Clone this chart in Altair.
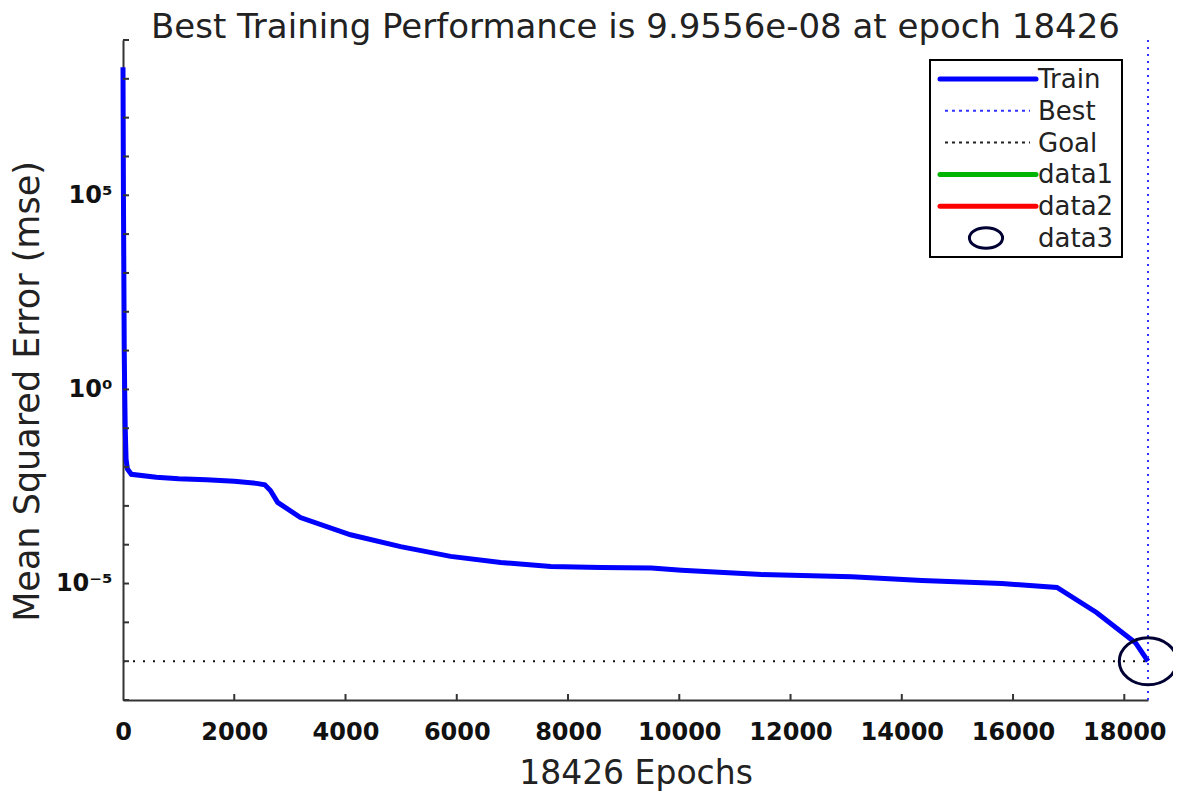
import altair as alt
import pandas as pd

# ---- data ----
epochs = [0, 3, 8, 15, 22, 30, 40, 55, 80, 150, 600, 1000, 1500, 2000, 2400,
          2550, 2650, 2780, 3190, 4090, 4990, 5890, 6790, 7690, 8590, 9500,
          10040, 11480, 13100, 14360, 15800, 16790, 17500, 18200, 18426]
train_mse = [2e8, 1e7, 1e5, 1e3, 10, 1, 0.1, 0.016, 0.0089, 0.0065, 0.0055,
             0.0050, 0.0047, 0.0043, 0.0038, 0.0035, 0.0025, 0.00123, 0.0005,
             0.00018, 8.9e-5, 5.0e-5, 3.5e-5, 2.75e-5, 2.57e-5, 2.5e-5, 2.2e-5,
             1.7e-5, 1.5e-5, 1.2e-5, 1.0e-5, 7.9e-6, 1.8e-6, 3.0e-7, 9.9556e-8]
best_epoch = [18426]
best_perf = [9.9556e-8]
goal = [1e-7]
x_ticks = [0, 2000, 4000, 6000, 8000, 10000, 12000, 14000, 16000, 18000]
x_inner_ticks = [2000, 4000, 6000, 8000, 10000, 12000, 14000, 16000, 18000]
y_labeled_ticks = [1e-5, 1, 1e5]
y_decade_ticks = [1e-8, 1e-7, 1e-6, 1e-5, 1e-4, 1e-3, 1e-2, 1e-1, 1, 10, 100,
                  1e3, 1e4, 1e5, 1e6, 1e7, 1e8, 1e9]
legend_labels = ["Train", "Best", "Goal", "data1", "data2", "data3"]

title_text = "Best Training Performance is 9.9556e-08 at epoch 18426"
x_title = "18426 Epochs"
y_title = "Mean Squared Error (mse)"

FONT = "DejaVu Sans"
W, H = 1025, 660
AXIS_COLOR = "#333333"

xscale = alt.Scale(domain=[0, 18426], nice=False, zero=False)
yscale = alt.Scale(type="log", domain=[1e-8, 1e9], nice=False)

xaxis = alt.Axis(values=x_ticks, format="d", ticks=False, grid=False,
                 labelFlush=False, labelOverlap=False,
                 labelFont=FONT, labelFontSize=24, labelFontWeight="bold",
                 labelColor="#111", labelPadding=20,
                 domainColor=AXIS_COLOR, domainWidth=2,
                 title=x_title, titleFont=FONT, titleFontSize=33,
                 titleFontWeight="normal", titleColor="#222",
                 titlePadding=13)
yaxis = alt.Axis(values=y_labeled_ticks, ticks=False, grid=False,
                 labelExpr="datum.value > 1000 ? '10⁵' : (datum.value > 0.01 ? '10⁰' : '10⁻⁵')",
                 labelFont=FONT, labelFontSize=24, labelFontWeight="bold",
                 labelColor="#111", labelPadding=11,
                 domainColor=AXIS_COLOR, domainWidth=2,
                 title=y_title, titleFont=FONT, titleFontSize=35,
                 titleFontWeight="normal", titleColor="#222",
                 titleX=-96, titleY=351, titleAngle=270,
                 titleAlign="center", titleBaseline="middle")

train_df = pd.DataFrame({"epoch": epochs, "mse": train_mse})
one = pd.DataFrame({"k": [0]})

train = alt.Chart(train_df).mark_line(color="#0000ff", strokeWidth=5).encode(
    x=alt.X("epoch:Q", scale=xscale, axis=xaxis, title=x_title),
    y=alt.Y("mse:Q", scale=yscale, axis=yaxis, title=y_title),
)

goal_df = pd.DataFrame({"epoch": [0], "x1": best_epoch, "mse": goal})
goal_line = alt.Chart(goal_df).mark_rule(color="#111", strokeWidth=2, strokeDash=[2, 8]).encode(
    x=alt.X("epoch:Q", scale=xscale, axis=xaxis, title=x_title),
    x2="x1:Q",
    y=alt.Y("mse:Q", scale=yscale, axis=yaxis, title=y_title),
)

best_df = pd.DataFrame({"epoch": best_epoch})
best_line = alt.Chart(best_df).mark_rule(color="#3333ff", strokeWidth=2, strokeDash=[2, 5]).encode(
    x=alt.X("epoch:Q", scale=xscale, axis=xaxis, title=x_title),
    y=alt.value(0),
    y2=alt.value(H),
)

ellipse = "M -1 0 A 1 0.82 0 1 0 1 0 A 1 0.82 0 1 0 -1 0 Z"
best_df2 = pd.DataFrame({"epoch": best_epoch, "mse": best_perf})
best_circle = alt.Chart(best_df2).mark_point(shape=ellipse, size=3300, filled=False,
                                             opacity=1, color="#000033",
                                             strokeWidth=3).encode(
    x=alt.X("epoch:Q", scale=xscale, axis=xaxis, title=x_title),
    y=alt.Y("mse:Q", scale=yscale, axis=yaxis, title=y_title),
)

ytick_df = pd.DataFrame({"mse": y_decade_ticks})
ytick_marks = alt.Chart(ytick_df).mark_rule(color=AXIS_COLOR, strokeWidth=2).encode(
    y=alt.Y("mse:Q", scale=yscale, axis=yaxis, title=y_title),
    x=alt.value(0),
    x2=alt.value(6),
)
xtick_df = pd.DataFrame({"epoch": x_inner_ticks})
xtick_marks = alt.Chart(xtick_df).mark_rule(color=AXIS_COLOR, strokeWidth=2).encode(
    x=alt.X("epoch:Q", scale=xscale, axis=xaxis, title=x_title),
    y=alt.value(H),
    y2=alt.value(H - 6),
)

# ---- legend (drawn by hand, MATLAB style) ----
box = alt.Chart(one).mark_rect(fill="white", stroke="black", strokeWidth=2).encode(
    x=alt.value(807), x2=alt.value(999), y=alt.value(20), y2=alt.value(217)
)
row_styles = [
    dict(kind="line", color="#0000ff", width=5, dash=None),
    dict(kind="line", color="#3333ff", width=2, dash=[3, 4]),
    dict(kind="line", color="#222222", width=2, dash=[3, 4]),
    dict(kind="line", color="#00b400", width=5, dash=None),
    dict(kind="line", color="#ff0000", width=5, dash=None),
    dict(kind="circle", color="#000033", width=3, dash=None),
]
legend_layers = [box]
for i, (lab, st) in enumerate(zip(legend_labels, row_styles)):
    ry = 39 + 31.8 * i
    if st["kind"] == "line":
        kw = dict(color=st["color"], strokeWidth=st["width"])
        if st["dash"]:
            kw["strokeDash"] = st["dash"]
            x0, x1 = 822, 907
        else:
            x0, x1 = 817, 913
            kw["strokeCap"] = "round"
        legend_layers.append(alt.Chart(one).mark_rule(**kw).encode(
            x=alt.value(x0), x2=alt.value(x1), y=alt.value(ry)))
    else:
        legend_layers.append(alt.Chart(one).mark_point(
            shape="M -1 0 A 1 0.62 0 1 0 1 0 A 1 0.62 0 1 0 -1 0 Z",
            size=1100, filled=False, opacity=1, color=st["color"],
            strokeWidth=st["width"]).encode(
            x=alt.value(863), y=alt.value(ry)))
    legend_layers.append(alt.Chart(pd.DataFrame({"label": [lab]})).mark_text(
        align="left", baseline="middle", font=FONT, fontSize=26, color="#222").encode(
        x=alt.value(915), y=alt.value(ry + 1), text="label:N"))

chart = alt.layer(
    train, goal_line, best_line, ytick_marks, xtick_marks, best_circle, *legend_layers
).properties(
    width=W, height=H,
    title=alt.TitleParams(title_text, font=FONT, fontSize=34, fontWeight="normal",
                          color="#222", anchor="middle", offset=-6),
    autosize=alt.AutoSizeParams(type="none"),
    padding={"left": 115, "top": 32, "right": 25, "bottom": 91},
).configure(background="white", view=alt.ViewConfig(stroke=None))

chart.save("out.html", embed_options={"renderer": "svg", "actions": False})
